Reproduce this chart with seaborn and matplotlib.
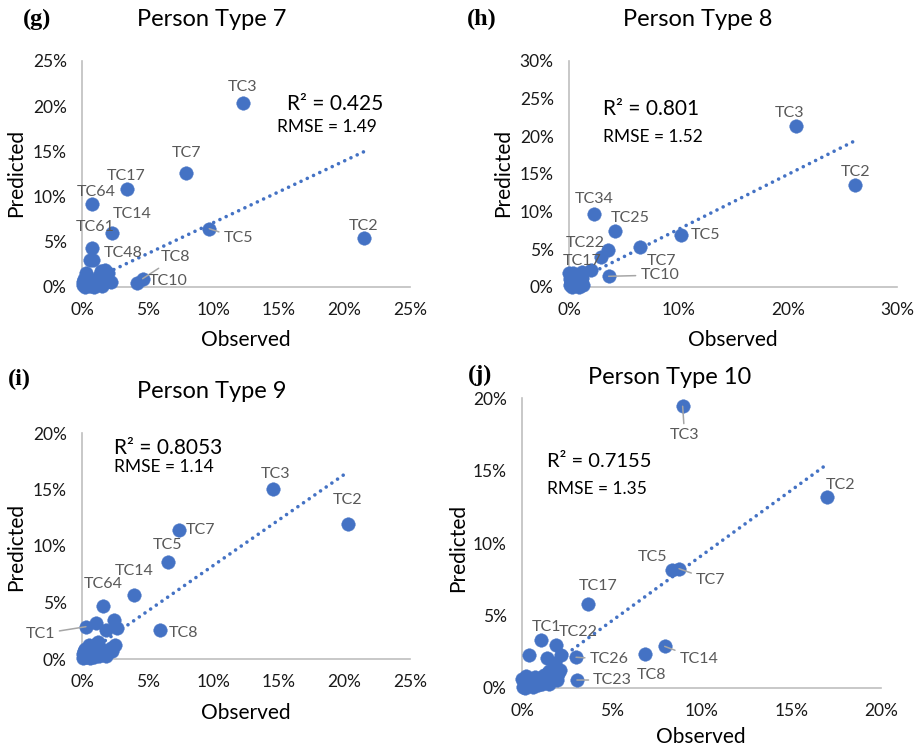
import matplotlib
matplotlib.use("Agg")
import numpy as np
import pandas as pd
import seaborn as sns
import matplotlib.pyplot as plt
from matplotlib.ticker import PercentFormatter, MultipleLocator

# ---------------- data (percent) ----------------
pt7_labels = ["TC3", "TC7", "TC17", "TC64", "TC14", "TC61", "TC5", "TC2", "TC8", "TC10", "TC48",
              "", "", "", "", "", "", "", "", "", "", "", "", "", "", "", "", "", "", "", "", "", "", ""]
pt7_obs = [12.25, 7.93, 3.40, 0.79, 2.31, 0.76, 9.70, 21.47, 4.62, 4.22, 1.75,
           0.86, 0.62, 0.30, 1.45, 2.00, 1.30, 0.05, 0.10, 0.20, 0.35, 0.50, 0.60, 0.80, 1.00,
           1.20, 1.50, 1.80, 2.20, 0.15, 0.40, 0.90, 0.25, 1.60]
pt7_pred = [20.4, 12.64, 10.84, 9.18, 5.94, 4.28, 6.45, 5.39, 0.92, 0.41, 1.85,
            2.99, 2.95, 1.58, 1.75, 1.50, 1.20, 0.20, 0.50, 0.10, 0.30, 0.60, 0.15, 0.40, 0.80,
            0.30, 0.10, 0.50, 0.50, 0.90, 1.10, 0.05, 0.00, 0.90]

pt8_labels = ["TC3", "TC2", "TC34", "TC25", "TC5", "TC7", "TC22", "", "TC10", "", "TC17",
              "", "", "", "", "", "", "", "", "", "", "", "", "", "", "", ""]
pt8_obs = [20.73, 26.2, 2.29, 4.24, 10.27, 6.5, 3.57, 2.93, 3.63, 1.98, 1.22,
           0.0, 0.4, 0.1, 0.2, 0.3, 0.5, 0.6, 0.8, 1.0, 1.2, 1.3, 0.05, 0.7, 0.9, 0.15, 1.1]
pt8_pred = [21.4, 13.5, 9.73, 7.43, 6.95, 5.31, 4.91, 4.03, 1.42, 2.26, 2.03,
            1.8, 1.9, 0.2, 0.6, 0.0, 0.4, 1.0, 0.3, 0.7, 1.2, 0.3, 1.0, 1.5, 0.05, 0.35, 0.9]

pt9_labels = ["TC3", "TC2", "TC7", "TC5", "TC14", "TC64", "TC8", "TC1",
              "", "", "", "", "", "", "", "", "", "", "", "", "", "", "", "", "", "", "", "", "", "", "", "", "", ""]
pt9_obs = [14.58, 20.25, 7.37, 6.55, 3.99, 1.6, 5.95, 0.3,
           1.07, 2.46, 1.83, 2.64, 2.5, 1.24, 0.2, 0.5, 0.8, 1.0, 1.6, 2.0, 2.2, 0.05, 0.1,
           0.3, 0.4, 0.6, 0.7, 1.3, 1.5, 0.15, 0.9, 1.8, 2.3, 1.1]
pt9_pred = [15.02, 11.95, 11.44, 8.56, 5.64, 4.66, 2.54, 2.86,
            3.19, 3.42, 2.54, 2.71, 1.24, 1.53, 0.9, 1.2, 0.6, 1.0, 0.8, 0.6, 1.0, 0.1, 0.4,
            0.2, 0.6, 0.05, 0.3, 0.3, 0.4, 0.7, 0.2, 0.3, 0.7, 1.3]

pt10_labels = ["TC3", "TC2", "TC5", "TC7", "TC17", "TC1", "TC22", "TC26", "TC14", "TC8", "TC23",
               "", "", "", "", "", "", "", "", "", "", "", "", "", "", "", "", "", "", "", "", "", "", "", "", ""]
pt10_obs = [8.95, 17.01, 8.34, 8.75, 3.66, 1.04, 1.89, 3.01, 7.95, 6.84, 3.06,
            0.39, 2.17, 1.39, 2.12, 1.84, 1.5, 1.2, 0.05, 0.1, 0.2, 0.3, 0.5, 0.6, 0.8, 1.0,
            1.3, 1.5, 1.7, 1.95, 0.15, 0.9, 1.1, 2.0, 0.0, 0.7]
pt10_pred = [19.43, 13.15, 8.14, 8.23, 5.81, 3.31, 2.97, 2.12, 2.87, 2.34, 0.55,
             2.25, 2.25, 2.05, 1.24, 1.7, 1.2, 0.9, 0.1, 0.5, 0.8, 0.3, 0.6, 0.1, 0.4, 0.7,
             0.5, 0.3, 0.8, 0.55, 0.0, 0.2, 0.3, 1.0, 0.6, 0.75]

# Excel linear trend lines (slope, intercept)
trend_coef = {"g": (0.684, 0.27), "h": (0.728, 0.37), "i": (0.807, 0.20), "j": (0.901, 0.12)}
r2_text = {"g": "R² = 0.425", "h": "R² = 0.801", "i": "R² = 0.8053", "j": "R² = 0.7155"}
rmse_text = {"g": "RMSE = 1.49", "h": "RMSE = 1.52", "i": "RMSE = 1.14", "j": "RMSE = 1.35"}
titles = {"g": "Person Type 7", "h": "Person Type 8", "i": "Person Type 9", "j": "Person Type 10"}

# label placements (data coords) and whether a leader line is drawn
label_pos = {
    "g": {"TC3": (12.25, 22.09), "TC7": (7.93, 14.79), "TC17": (3.4, 12.28), "TC64": (1.12, 10.54),
          "TC14": (3.79, 8.08), "TC61": (0.99, 6.6), "TC48": (3.15, 3.73), "TC8": (7.14, 3.29),
          "TC10": (6.58, 0.66), "TC5": (11.91, 5.39), "TC2": (21.47, 6.78)},
    "h": {"TC3": (20.15, 23.14), "TC2": (26.22, 15.22), "TC34": (2.29, 11.64), "TC25": (5.64, 9.12),
          "TC5": (12.5, 6.86), "TC22": (1.53, 5.8), "TC7": (8.48, 3.45), "TC17": (1.22, 3.45),
          "TC10": (8.3, 1.59)},
    "i": {"TC3": (14.73, 16.34), "TC2": (20.25, 14.04), "TC7": (9.02, 11.42), "TC5": (6.55, 10.06),
          "TC14": (3.99, 7.79), "TC64": (1.6, 6.61), "TC8": (7.75, 2.27), "TC1": (-3.2, 2.21)},
    "j": {"TC3": (9.06, 17.43), "TC2": (17.75, 13.98), "TC5": (7.26, 9.06), "TC7": (10.51, 7.45),
          "TC17": (4.22, 7.01), "TC1": (1.37, 4.23), "TC22": (3.14, 3.84), "TC26": (4.85, 1.98),
          "TC14": (9.86, 1.98), "TC8": (7.19, 0.9), "TC23": (5.05, 0.55)},
}
leaders = {"g": {"TC8", "TC5"}, "h": {"TC10"}, "i": {"TC1"}, "j": {"TC3", "TC7", "TC26", "TC14", "TC23"}}

# ---------------- style ----------------
sns.set_style("white")
plt.rcParams["font.family"] = ["Lato", "DejaVu Sans"]

W, H = 917, 749
fig = plt.figure(figsize=(W / 100, H / 100), dpi=100)

def frect(l, t, r, b):
    return [l / W, 1 - b / H, (r - l) / W, (b - t) / H]

def fpt(x, y):
    return x / W, 1 - y / H

BLUE = "#4472C4"
GRID = "#bfbfbf"

panels = [
    dict(key="g", obs=pt7_obs, pred=pt7_pred, labels=pt7_labels, rect=(82, 61, 410, 287),
         xmax=25, xstep=5, ymax=25, ystep=5, letter="(g)", letter_xy=(37, 19), title_xy=(212, 20),
         ylab_xy=(16, 173), xlab_xy=(246, 340), r2_xy=(287, 104), rmse_xy=(277, 127), r2_fs=15, rmse_fs=12.5),
    dict(key="h", obs=pt8_obs, pred=pt8_pred, labels=pt8_labels, rect=(569, 61, 897, 287),
         xmax=30, xstep=10, ymax=30, ystep=5, letter="(h)", letter_xy=(482, 19), title_xy=(698, 20),
         ylab_xy=(503, 173), xlab_xy=(733, 340), r2_xy=(603, 109), rmse_xy=(603, 137), r2_fs=15, rmse_fs=12.5),
    dict(key="i", obs=pt9_obs, pred=pt9_pred, labels=pt9_labels, rect=(82, 433, 410, 659),
         xmax=25, xstep=5, ymax=20, ystep=5, letter="(i)", letter_xy=(19, 379), title_xy=(212, 392),
         ylab_xy=(16, 547), xlab_xy=(246, 713), r2_xy=(114, 448), rmse_xy=(114, 467), r2_fs=15, rmse_fs=12.5),
    dict(key="j", obs=pt10_obs, pred=pt10_pred, labels=pt10_labels, rect=(522, 398, 881, 688),
         xmax=20, xstep=5, ymax=20, ystep=5, letter="(j)", letter_xy=(480, 375), title_xy=(670, 378),
         ylab_xy=(458, 548), xlab_xy=(701, 737), r2_xy=(547, 461), rmse_xy=(547, 489), r2_fs=14.5, rmse_fs=12.5),
]

for p in panels:
    k = p["key"]
    ax = fig.add_axes(frect(*p["rect"]))
    df = pd.DataFrame({"obs": p["obs"], "pred": p["pred"], "label": p["labels"]})
    sns.scatterplot(data=df, x="obs", y="pred", ax=ax, color=BLUE, s=95, edgecolor=BLUE,
                    linewidth=0.3, clip_on=False, zorder=3)
    slope, icpt = trend_coef[k]
    tx = np.array([df["obs"].min(), df["obs"].max()])
    tdf = pd.DataFrame({"x": tx, "y": icpt + slope * tx})
    sns.lineplot(data=tdf, x="x", y="y", ax=ax, color=BLUE, lw=2.6,
                 dashes=False, zorder=4)
    ax.lines[-1].set_linestyle((0, (0.01, 1.9)))
    ax.lines[-1].set_dash_capstyle("round")
    ax.lines[-1].set_solid_capstyle("round")

    ax.set_xlim(0, p["xmax"])
    ax.set_ylim(0, p["ymax"])
    ax.xaxis.set_major_locator(MultipleLocator(p["xstep"]))
    ax.yaxis.set_major_locator(MultipleLocator(p["ystep"]))
    ax.xaxis.set_major_formatter(PercentFormatter(100, decimals=0))
    ax.yaxis.set_major_formatter(PercentFormatter(100, decimals=0))
    ax.set_xlabel("")
    ax.set_ylabel("")
    for s in ["top", "right"]:
        ax.spines[s].set_visible(False)
    for s in ["left", "bottom"]:
        ax.spines[s].set_color(GRID)
        ax.spines[s].set_linewidth(1.2)
    ax.tick_params(axis="both", which="major", direction="out", length=5, width=1.2,
                   color=GRID, labelsize=12.5, labelcolor="#1a1a1a", pad=6)

    # point labels
    lab_map = label_pos[k]
    for _, row in df.iterrows():
        name = row["label"]
        if not name:
            continue
        lx, ly = lab_map[name]
        if name in leaders[k]:
            ax.annotate(name, xy=(row["obs"], row["pred"]), xytext=(lx, ly),
                        ha="center", va="center", fontsize=11.5, color="#595959",
                        annotation_clip=False, zorder=5,
                        arrowprops=dict(arrowstyle="-", color="#a6a6a6", lw=1.1,
                                        shrinkA=1, shrinkB=0))
        else:
            ax.text(lx, ly, name, ha="center", va="center", fontsize=11.5,
                    color="#595959", clip_on=False, zorder=5)

    fig.text(*fpt(*p["title_xy"]), titles[k], ha="center", va="center", fontsize=17, color="black")
    fig.text(*fpt(*p["letter_xy"]), p["letter"], ha="center", va="center", fontsize=17.5,
             fontweight="bold", family=["Liberation Serif", "DejaVu Serif"], color="black")
    fig.text(*fpt(*p["ylab_xy"]), "Predicted", ha="center", va="center", rotation=90,
             fontsize=15, color="black")
    fig.text(*fpt(*p["xlab_xy"]), "Observed", ha="center", va="center", fontsize=15, color="black")
    fig.text(*fpt(*p["r2_xy"]), r2_text[k], ha="left", va="center", fontsize=p["r2_fs"], color="black")
    fig.text(*fpt(*p["rmse_xy"]), rmse_text[k], ha="left", va="center", fontsize=p["rmse_fs"], color="black")

fig.savefig("out.png", dpi=100, facecolor="white")
